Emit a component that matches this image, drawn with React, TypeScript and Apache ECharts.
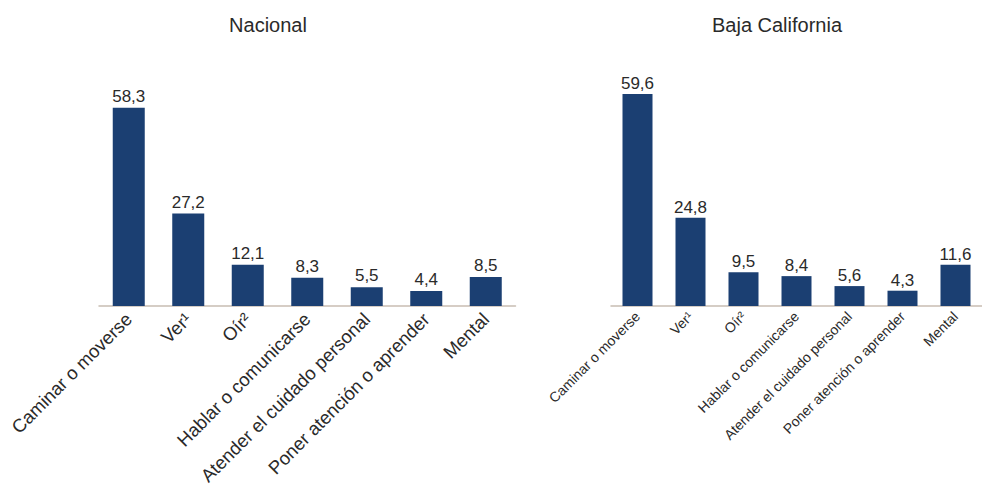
import React, { useEffect, useRef } from "react";
import * as echarts from "echarts";

const categories = [
  "Caminar o moverse",
  "Ver¹",
  "Oír²",
  "Hablar o comunicarse",
  "Atender el cuidado personal",
  "Poner atención o aprender",
  "Mental",
];
const nacionalValues = [58.3, 27.2, 12.1, 8.3, 5.5, 4.4, 8.5];
const bajaCaliforniaValues = [59.6, 24.8, 9.5, 8.4, 5.6, 4.3, 11.6];
const titles = ["Nacional", "Baja California"];

const FONT = "'Liberation Sans', Arial, Helvetica, sans-serif";
const BAR = "#1b3f72";
const fmt = (p: any) => Number(p.value).toFixed(1).replace(".", ",");

export default function App() {
  const ref = useRef<HTMLDivElement>(null);
  useEffect(() => {
    document.body.style.margin = "0";
    if (!ref.current) return;
    const chart = echarts.init(ref.current, undefined, { renderer: "svg" });
    chart.setOption({
      animation: false,
      backgroundColor: "#ffffff",
      title: [
        {
          text: titles[0],
          left: 263,
          top: 10,
          textAlign: "center",
          textStyle: { fontFamily: FONT, fontSize: 20, fontWeight: "normal", color: "#2a2a2a" },
        },
        {
          text: titles[1],
          left: 772,
          top: 10,
          textAlign: "center",
          textStyle: { fontFamily: FONT, fontSize: 20, fontWeight: "normal", color: "#2a2a2a" },
        },
      ],
      grid: [
        { left: 99, top: 102, width: 416.5, height: 204 },
        { left: 611, top: 92.6, width: 381.5, height: 213.4 },
      ],
      xAxis: [
        {
          type: "category",
          gridIndex: 0,
          data: categories,
          axisTick: { show: false },
          axisLine: { lineStyle: { color: "#c8bdb2", width: 1.5 } },
          axisLabel: {
            rotate: 45,
            interval: 0,
            margin: 10,
            fontFamily: FONT,
            fontSize: 18.5,
            color: "#2a2a2a",
          },
        },
        {
          type: "category",
          gridIndex: 1,
          data: categories,
          axisTick: { show: false },
          axisLine: { lineStyle: { color: "#c8bdb2", width: 1.5 } },
          axisLabel: {
            rotate: 45,
            interval: 0,
            margin: 8,
            fontFamily: FONT,
            fontSize: 14,
            color: "#2a2a2a",
          },
        },
      ],
      yAxis: [
        { type: "value", gridIndex: 0, min: 0, max: 60, show: false },
        { type: "value", gridIndex: 1, min: 0, max: 60, show: false },
      ],
      series: [
        {
          type: "bar",
          xAxisIndex: 0,
          yAxisIndex: 0,
          data: nacionalValues,
          barWidth: 32,
          itemStyle: { color: BAR },
          label: {
            show: true,
            position: "top",
            distance: 3,
            formatter: fmt,
            fontFamily: FONT,
            fontSize: 17,
            color: "#2a2a2a",
          },
        },
        {
          type: "bar",
          xAxisIndex: 1,
          yAxisIndex: 1,
          data: bajaCaliforniaValues,
          barWidth: 30,
          itemStyle: { color: BAR },
          label: {
            show: true,
            position: "top",
            distance: 2,
            formatter: fmt,
            fontFamily: FONT,
            fontSize: 17,
            color: "#2a2a2a",
          },
        },
      ],
    });
    return () => chart.dispose();
  }, []);
  return <div ref={ref} style={{ width: 982, height: 495 }} />;
}
